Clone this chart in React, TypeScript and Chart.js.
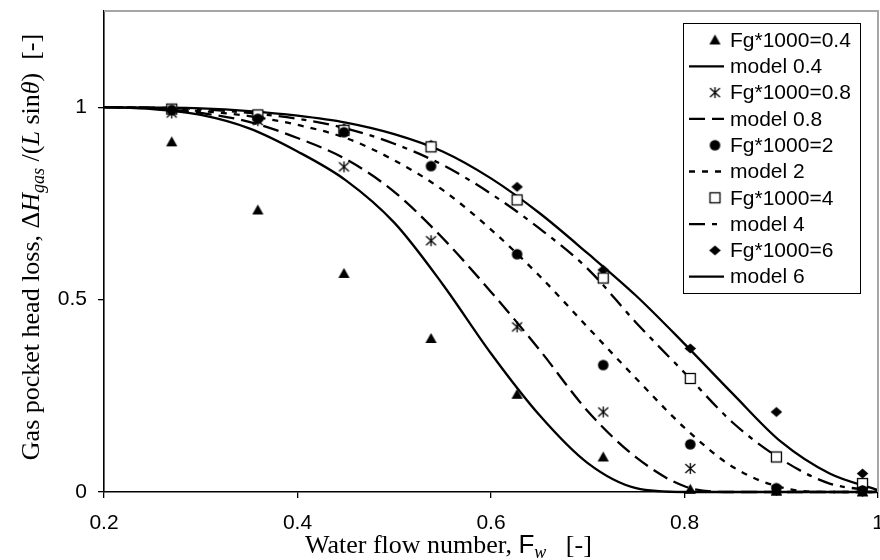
import React, { useEffect, useRef } from 'react';
import { Chart, registerables } from 'chart.js';

Chart.register(...registerables);

// ---------- data ----------
const xObs = [0.27, 0.359, 0.448, 0.538, 0.627, 0.716, 0.806, 0.895, 0.984];
const fg04 = [0.91, 0.733, 0.568, 0.399, 0.254, 0.091, 0.007, 0.002, 0.0];
const fg08 = [0.985, 0.965, 0.845, 0.653, 0.429, 0.208, 0.061, 0.005, 0.002];
const fg2 = [0.993, 0.97, 0.935, 0.847, 0.618, 0.33, 0.124, 0.01, 0.004];
const fg4 = [0.995, 0.98, 0.94, 0.897, 0.759, 0.556, 0.295, 0.091, 0.022];
const fg6 = [0.995, 0.975, 0.945, 0.902, 0.793, 0.577, 0.373, 0.208, 0.048];

const xModel = [0.2, 0.25, 0.3, 0.35, 0.4, 0.45, 0.5, 0.55, 0.6, 0.65, 0.7, 0.75, 0.8, 0.85, 0.9, 0.95, 1.0];
const model04 = [1.0, 0.995, 0.98, 0.945, 0.885, 0.81, 0.7, 0.54, 0.36, 0.2, 0.075, 0.01, 0, 0, 0, 0, 0];
const model08 = [1.0, 0.997, 0.985, 0.962, 0.92, 0.865, 0.78, 0.66, 0.52, 0.37, 0.21, 0.09, 0.015, 0, 0, 0, 0];
const model2 = [1.0, 0.998, 0.99, 0.977, 0.954, 0.92, 0.862, 0.785, 0.682, 0.562, 0.428, 0.295, 0.167, 0.065, 0.012, 0, 0];
const model4 = [1.0, 0.999, 0.995, 0.985, 0.97, 0.945, 0.905, 0.85, 0.775, 0.685, 0.58, 0.44, 0.31, 0.18, 0.085, 0.022, 0.003];
const model6 = [1.0, 0.999, 0.997, 0.99, 0.978, 0.96, 0.93, 0.885, 0.815, 0.725, 0.62, 0.51, 0.385, 0.255, 0.13, 0.048, 0.005];

const seriesLabels = [
  'Fg*1000=0.4', 'model 0.4',
  'Fg*1000=0.8', 'model 0.8',
  'Fg*1000=2', 'model 2',
  'Fg*1000=4', 'model 4',
  'Fg*1000=6', 'model 6',
];

const xTicks = [0.2, 0.4, 0.6, 0.8, 1.0];
const xTickLabels = ['0.2', '0.4', '0.6', '0.8', '1'];
const yTicks = [0, 0.5, 1];
const yTickLabels = ['0', '0.5', '1'];

// ---------- styles ----------
const W = 880;
const H = 560;
const SANS = '"Liberation Sans", Arial, sans-serif';
const SERIF = '"Liberation Serif", "Times New Roman", serif';

function makeMarker(kind: string): HTMLCanvasElement {
  const c = document.createElement('canvas');
  c.width = 15;
  c.height = 15;
  const g = c.getContext('2d')!;
  const cx = 7.5;
  const cy = 7.5;
  g.fillStyle = '#000';
  g.strokeStyle = '#000';
  if (kind === 'triangle') {
    g.beginPath();
    g.moveTo(cx, cy - 5.5);
    g.lineTo(cx + 5.6, cy + 4.5);
    g.lineTo(cx - 5.6, cy + 4.5);
    g.closePath();
    g.fill();
  } else if (kind === 'circle') {
    g.beginPath();
    g.arc(cx, cy, 5.3, 0, Math.PI * 2);
    g.fill();
  } else if (kind === 'square') {
    g.fillStyle = '#fff';
    g.fillRect(cx - 5, cy - 5, 10, 10);
    g.lineWidth = 1.3;
    g.strokeRect(cx - 5, cy - 5, 10, 10);
  } else if (kind === 'diamond') {
    g.beginPath();
    g.moveTo(cx, cy - 5);
    g.lineTo(cx + 5.8, cy);
    g.lineTo(cx, cy + 5);
    g.lineTo(cx - 5.8, cy);
    g.closePath();
    g.fill();
  } else if (kind === 'asterisk') {
    g.lineWidth = 1.3;
    g.beginPath();
    g.moveTo(cx, cy - 5.5);
    g.lineTo(cx, cy + 5.5);
    g.moveTo(cx - 5, cy - 4.5);
    g.lineTo(cx + 5, cy + 4.5);
    g.moveTo(cx + 5, cy - 4.5);
    g.lineTo(cx - 5, cy + 4.5);
    g.stroke();
  }
  return c;
}

type Part = { t: string; f: string; dy?: number };

function richWidth(ctx: CanvasRenderingContext2D, parts: Part[]) {
  let w = 0;
  for (const p of parts) {
    ctx.font = p.f;
    w += ctx.measureText(p.t).width;
  }
  return w;
}

function drawRich(ctx: CanvasRenderingContext2D, parts: Part[], x: number, y: number) {
  let cx = x;
  for (const p of parts) {
    ctx.font = p.f;
    ctx.fillText(p.t, cx, y + (p.dy || 0));
    cx += ctx.measureText(p.t).width;
  }
}

const yTitle: Part[] = [
  { t: 'Gas pocket head loss, ', f: `26px ${SERIF}` },
  { t: 'Δ', f: `26px ${SERIF}` },
  { t: 'H', f: `italic 26px ${SERIF}` },
  { t: 'gas', f: `italic 18px ${SERIF}`, dy: 5 },
  { t: ' /(', f: `26px ${SERIF}` },
  { t: 'L', f: `italic 26px ${SERIF}` },
  { t: ' sin', f: `26px ${SERIF}` },
  { t: 'θ', f: `italic 26px ${SERIF}` },
  { t: ')  [-]', f: `26px ${SERIF}` },
];

const xTitle: Part[] = [
  { t: 'Water flow number, ', f: `26px ${SERIF}` },
  { t: 'F', f: `26px ${SANS}` },
  { t: 'w', f: `italic 18px ${SERIF}`, dy: 5 },
  { t: '   [-]', f: `26px ${SERIF}` },
];

function zeroPad(s: any) {
  s.paddingTop = 0;
  s.paddingBottom = 0;
  s.paddingLeft = 0;
  s.paddingRight = 0;
}

export default function App() {
  const ref = useRef<HTMLCanvasElement>(null);

  useEffect(() => {
    const markers = {
      triangle: makeMarker('triangle'),
      asterisk: makeMarker('asterisk'),
      circle: makeMarker('circle'),
      square: makeMarker('square'),
      diamond: makeMarker('diamond'),
    };
    const pts = (xs: number[], ys: number[]) => xs.map((x, i) => ({ x, y: ys[i] }));

    const obs = (label: string, ys: number[], marker: HTMLCanvasElement) => ({
      label,
      data: pts(xObs, ys),
      showLine: false,
      pointStyle: marker,
      pointRadius: 6,
      pointHoverRadius: 6,
      borderColor: '#000',
      backgroundColor: '#000',
      clip: false as any,
    });
    const mdl = (label: string, ys: number[], dash: number[]) => ({
      label,
      data: pts(xModel, ys),
      showLine: true,
      pointRadius: 0,
      borderColor: '#000',
      backgroundColor: '#000',
      borderWidth: 2.3,
      borderDash: dash,
      cubicInterpolationMode: 'monotone' as const,
      fill: false,
      clip: false as any,
    });

    const dashes: number[][] = [[], [16, 7], [6, 7], [16, 7, 5, 7], []];
    const markerList = [markers.triangle, markers.asterisk, markers.circle, markers.square, markers.diamond];

    const datasets: any[] = [
      obs(seriesLabels[0], fg04, markers.triangle),
      mdl(seriesLabels[1], model04, dashes[0]),
      obs(seriesLabels[2], fg08, markers.asterisk),
      mdl(seriesLabels[3], model08, dashes[1]),
      obs(seriesLabels[4], fg2, markers.circle),
      mdl(seriesLabels[5], model2, dashes[2]),
      obs(seriesLabels[6], fg4, markers.square),
      mdl(seriesLabels[7], model4, dashes[3]),
      obs(seriesLabels[8], fg6, markers.diamond),
      mdl(seriesLabels[9], model6, dashes[4]),
    ];

    const decor = {
      id: 'decor',
      afterDraw(chart: any) {
        const ctx: CanvasRenderingContext2D = chart.ctx;
        const a = chart.chartArea;
        ctx.save();
        // gray top / right frame
        ctx.strokeStyle = '#a6a6a6';
        ctx.lineWidth = 2;
        ctx.beginPath();
        ctx.moveTo(a.left, a.top);
        ctx.lineTo(a.right, a.top);
        ctx.lineTo(a.right, a.bottom);
        ctx.stroke();

        // legend
        const bx = 683, by = 23, bw = 177, bh = 270;
        ctx.fillStyle = '#fff';
        ctx.fillRect(bx, by, bw, bh);
        ctx.strokeStyle = '#000';
        ctx.lineWidth = 1;
        ctx.strokeRect(bx + 0.5, by + 0.5, bw, bh);
        ctx.fillStyle = '#000';
        ctx.textAlign = 'left';
        ctx.textBaseline = 'middle';
        for (let i = 0; i < 10; i++) {
          const ry = 40 + i * 26.3;
          const ds = chart.data.datasets[i];
          if (i % 2 === 0) {
            const m = markerList[i / 2];
            ctx.drawImage(m, 715 - 7.5, ry - 7.5);
          } else {
            ctx.save();
            ctx.strokeStyle = '#000';
            ctx.lineWidth = 2.3;
            ctx.setLineDash(dashes[(i - 1) / 2]);
            ctx.beginPath();
            ctx.moveTo(689, ry);
            ctx.lineTo(724, ry);
            ctx.stroke();
            ctx.restore();
          }
          ctx.font = `21px ${SANS}`;
          ctx.fillText(ds.label, 730, ry + 1);
        }

        // axis titles
        ctx.textBaseline = 'alphabetic';
        ctx.textAlign = 'left';
        ctx.fillStyle = '#000';
        drawRich(ctx, xTitle, 305, 553);

        const yw = richWidth(ctx, yTitle);
        ctx.save();
        ctx.translate(39, 247);
        ctx.rotate(-Math.PI / 2);
        drawRich(ctx, yTitle, -yw / 2, 0);
        ctx.restore();
        ctx.restore();
      },
    };

    const chart = new Chart(ref.current!, {
      type: 'scatter',
      data: { datasets },
      options: {
        responsive: false,
        animation: false,
        devicePixelRatio: 1,
        events: [],
        layout: { autoPadding: false, padding: { top: 11, right: 2, left: 0, bottom: 0 } },
        plugins: {
          legend: { display: false },
          tooltip: { enabled: false },
          title: { display: false },
        },
        scales: {
          x: {
            type: 'linear',
            position: 'bottom',
            min: 0.2,
            max: 1,
            afterBuildTicks: (s: any) => {
              s.ticks = xTicks.map((v) => ({ value: v }));
            },
            afterFit: (s: any) => {
              s.height = 68;
              zeroPad(s);
            },
            grid: {
              display: true,
              drawOnChartArea: false,
              drawTicks: true,
              tickLength: 6,
              color: '#000',
              lineWidth: 1.3,
            },
            border: { display: true, color: '#000', width: 1.6 },
            ticks: {
              color: '#000',
              font: { family: SANS, size: 21 },
              padding: 13,
              maxRotation: 0,
              autoSkip: false,
              callback: (_v: any, i: number) => xTickLabels[i],
            },
          },
          y: {
            type: 'linear',
            min: 0,
            max: 1.25,
            afterBuildTicks: (s: any) => {
              s.ticks = yTicks.map((v) => ({ value: v }));
            },
            afterFit: (s: any) => {
              s.width = 104;
              zeroPad(s);
            },
            grid: {
              display: true,
              drawOnChartArea: false,
              drawTicks: true,
              tickLength: 6,
              color: '#000',
              lineWidth: 1.3,
            },
            border: { display: true, color: '#000', width: 1.6 },
            ticks: {
              color: '#000',
              font: { family: SANS, size: 21 },
              padding: 11,
              autoSkip: false,
              callback: (_v: any, i: number) => yTickLabels[i],
            },
          },
        },
      },
      plugins: [decor],
    });
    return () => chart.destroy();
  }, []);

  return (
    <div style={{ position: 'fixed', left: 0, top: 0, width: W, height: H, background: '#fff' }}>
      <canvas ref={ref} width={W} height={H} style={{ width: W, height: H, display: 'block' }} />
    </div>
  );
}
